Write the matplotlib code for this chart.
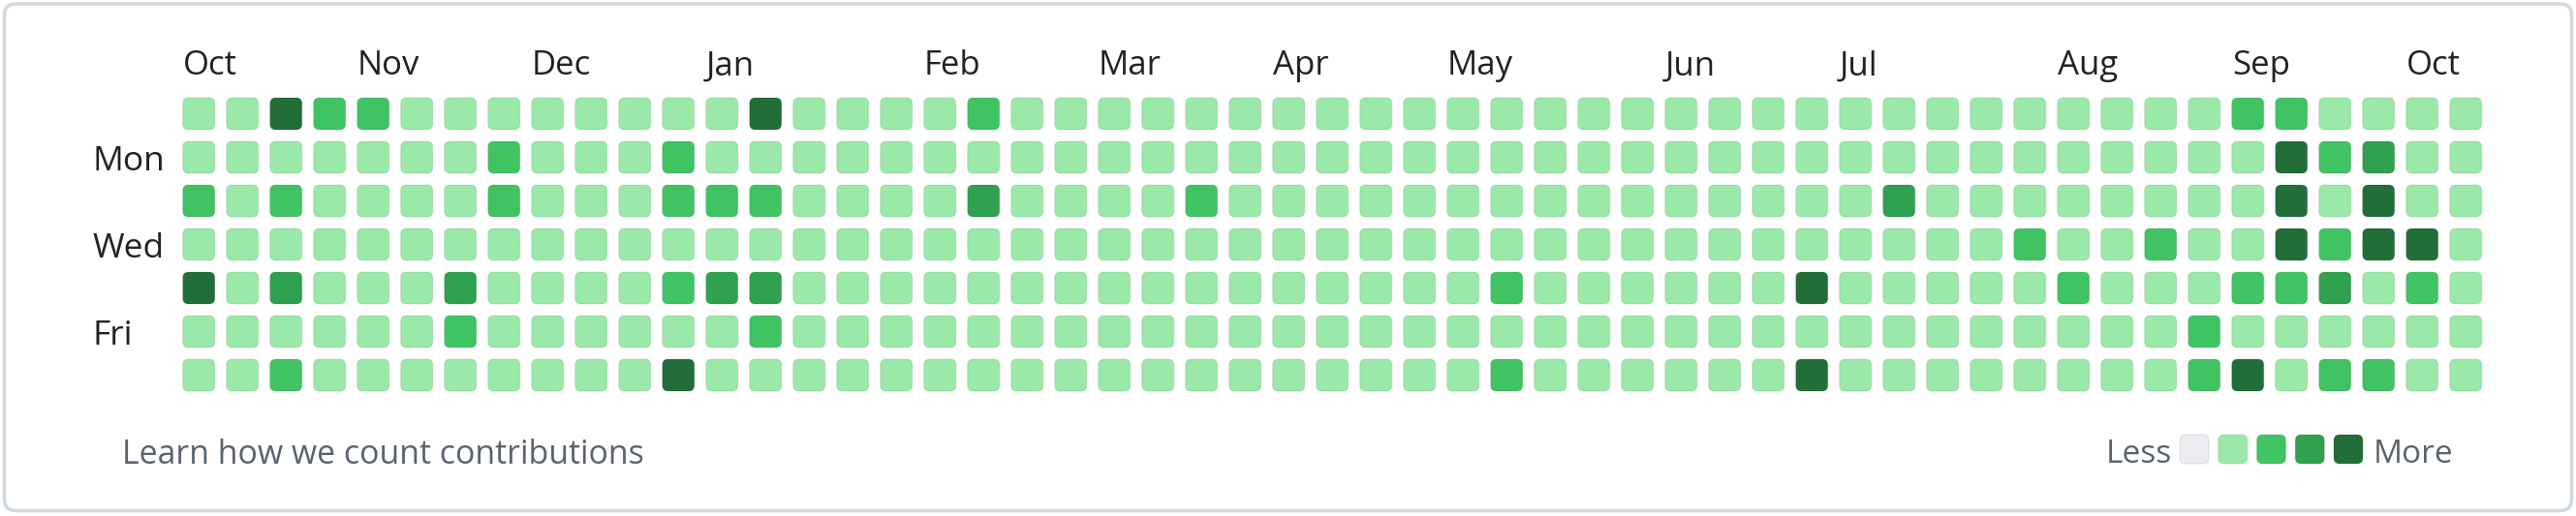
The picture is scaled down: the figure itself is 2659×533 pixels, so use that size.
import numpy as np
import matplotlib
matplotlib.use("Agg")
import matplotlib.pyplot as plt
from matplotlib.patches import FancyBboxPatch

# ---------------- data ----------------
# contribution level per week (53 weeks), one list per weekday (row)
sun = [1,1,4,2,2,1,1,1,1,1,1,1,1,4,1,1,1,1,2,1,1,1,1,1,1,1,1,1,1,1,1,1,1,1,1,1,1,1,1,1,1,1,1,1,1,1,1,2,2,1,1,1,1]
mon = [1,1,1,1,1,1,1,2,1,1,1,2,1,1,1,1,1,1,1,1,1,1,1,1,1,1,1,1,1,1,1,1,1,1,1,1,1,1,1,1,1,1,1,1,1,1,1,1,4,2,3,1,1]
tue = [2,1,2,1,1,1,1,2,1,1,1,2,2,2,1,1,1,1,3,1,1,1,1,2,1,1,1,1,1,1,1,1,1,1,1,1,1,1,1,3,1,1,1,1,1,1,1,1,4,1,4,1,1]
wed = [1,1,1,1,1,1,1,1,1,1,1,1,1,1,1,1,1,1,1,1,1,1,1,1,1,1,1,1,1,1,1,1,1,1,1,1,1,1,1,1,1,1,2,1,1,2,1,1,4,2,4,4,1]
thu = [4,1,3,1,1,1,3,1,1,1,1,2,3,3,1,1,1,1,1,1,1,1,1,1,1,1,1,1,1,1,2,1,1,1,1,1,1,4,1,1,1,1,1,2,1,1,1,2,2,3,1,2,1]
fri = [1,1,1,1,1,1,2,1,1,1,1,1,1,2,1,1,1,1,1,1,1,1,1,1,1,1,1,1,1,1,1,1,1,1,1,1,1,1,1,1,1,1,1,1,1,1,2,1,1,1,1,1,1]
sat = [1,1,2,1,1,1,1,1,1,1,1,4,1,1,1,1,1,1,1,1,1,1,1,1,1,1,1,1,1,1,2,1,1,1,1,1,1,4,1,1,1,1,1,1,1,1,2,4,1,2,2,1,1]

month_names = ["Oct", "Nov", "Dec", "Jan", "Feb", "Mar", "Apr", "May", "Jun", "Jul", "Aug", "Sep", "Oct"]
month_cols = [0, 4, 8, 12, 17, 21, 25, 29, 34, 38, 43, 47, 51]
day_names = ["Mon", "Wed", "Fri"]
day_rows = [1, 3, 5]
legend_levels = [0, 1, 2, 3, 4]
palette = ["#ebedf0", "#9be9a8", "#40c463", "#30a14e", "#216e39"]

footer_text = "Learn how we count contributions"

# ---------------- style ----------------
plt.rcParams['font.family'] = ['Open Sans', 'DejaVu Sans']
W, H, DPI = 2659, 533, 100
TXT_DARK = "#1f2328"
TXT_MUTED = "#59636e"
BORDER = "#d1d9e0"
EDGE = (0.106, 0.122, 0.137, 0.08)

fig = plt.figure(figsize=(W / DPI, H / DPI), dpi=DPI)
fig.patch.set_facecolor("white")

# background axes in pixel units for the panel frame
bg = fig.add_axes([0, 0, 1, 1])
bg.set_xlim(0, W)
bg.set_ylim(H, 0)
bg.axis("off")
bg.add_patch(FancyBboxPatch((4.5, 4), W - 9, H - 9.5,
                            boxstyle="round,pad=0,rounding_size=12",
                            facecolor="white", edgecolor=BORDER, linewidth=2.6))

# grid axes: one data unit = one week / one day (45 px)
levels = np.array([sun, mon, tue, wed, thu, fri, sat])
n_rows, n_weeks = levels.shape
cell = 33 / 45
half = cell / 2
gl, gr, gt, gb = 188.7, 2561.7, 101, 404
ax = fig.add_axes([gl / W, 1 - gb / H, (gr - gl) / W, (gb - gt) / H])
ax.set_xlim(-half, n_weeks - 1 + half)
ax.set_ylim(n_rows - 1 + half, -half)
ax.axis("off")

for r in range(n_rows):
    for c in range(n_weeks):
        ax.add_patch(FancyBboxPatch((c - half, r - half), cell, cell,
                                    boxstyle="round,pad=0,rounding_size=0.13",
                                    facecolor=palette[levels[r, c]],
                                    edgecolor=EDGE, linewidth=1.1,
                                    clip_on=False))

for name, col in zip(month_names, month_cols):
    ax.text(col - half, -half - 0.53, name, ha="left", va="baseline",
            fontsize=25, color=TXT_DARK, clip_on=False)

for name, row in zip(day_names, day_rows):
    ax.text(-2.43, row + 0.30, name, ha="left", va="baseline",
            fontsize=25.5, color=TXT_DARK, clip_on=False)

# footer
fig.text(126 / W, 1 - 479 / H, footer_text, ha="left", va="baseline",
         fontsize=24.4, color=TXT_MUTED)

# legend
lp = 39.75
lcell = 30 / lp
ll, lt = 2250, 449
lax = fig.add_axes([ll / W, 1 - (lt + 30) / H, (4 * lp + 30) / W, 30 / H])
lax.set_xlim(0, len(legend_levels) - 1 + lcell)
lax.set_ylim(lcell, 0)
lax.axis("off")
for i, lv in enumerate(legend_levels):
    lax.add_patch(FancyBboxPatch((i, 0), lcell, lcell,
                                 boxstyle="round,pad=0,rounding_size=0.15",
                                 facecolor=palette[lv], edgecolor=EDGE,
                                 linewidth=1.1, clip_on=False))
fig.text(2174 / W, 1 - 478 / H, "Less", ha="left", va="baseline",
         fontsize=24, color=TXT_MUTED)
fig.text(2450 / W, 1 - 478 / H, "More", ha="left", va="baseline",
         fontsize=24, color=TXT_MUTED)

fig.savefig("out.png", dpi=DPI, facecolor="white")
